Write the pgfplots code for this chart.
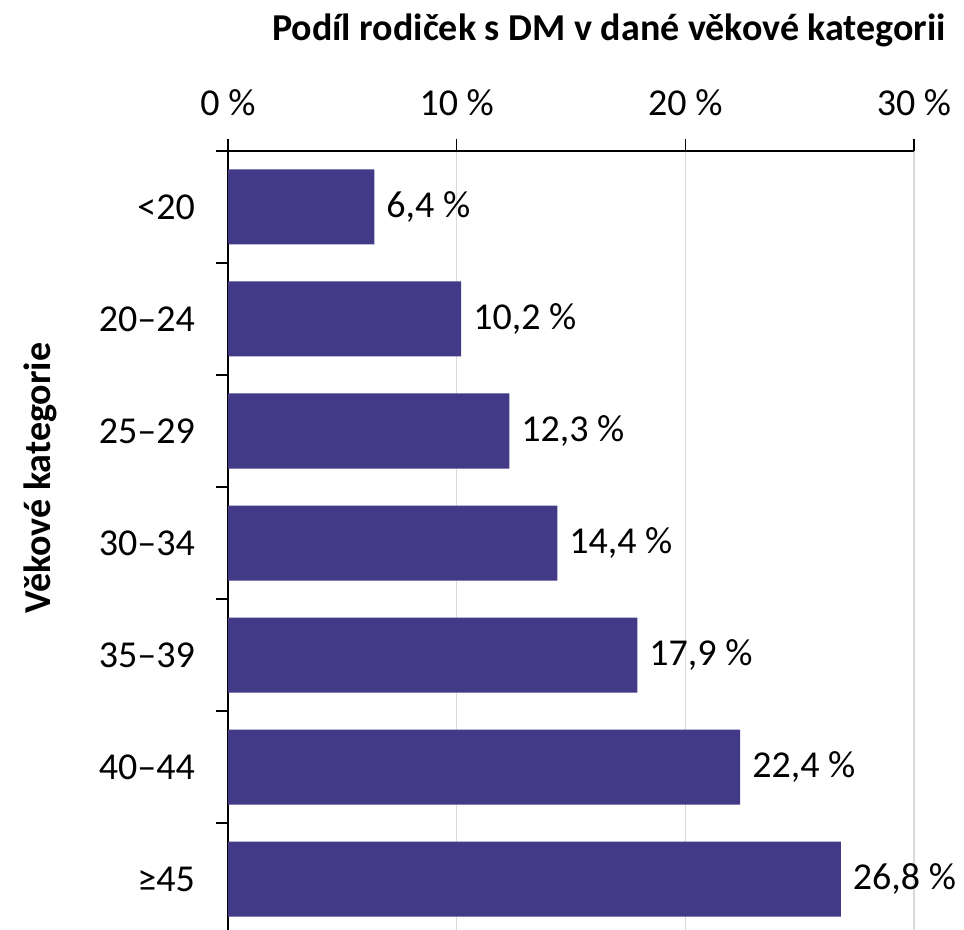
\documentclass[border=0pt]{standalone}
\usepackage{pgfplots}
\pgfplotsset{compat=1.18}
\usepackage{fontspec}
\setmainfont{Carlito}
\definecolor{barpurple}{RGB}{66,57,135}
\definecolor{gridgray}{RGB}{217,217,217}
\pgfkeys{/pgf/number format/assume math mode=true}

\begin{document}
\begin{tikzpicture}[font=\fontsize{19}{23}\selectfont]
\useasboundingbox (0,0) rectangle (482pt,-465pt);
\begin{axis}[
  at={(114pt,-467.5pt)}, anchor=south west,
  width=343pt, height=392pt, scale only axis,
  xbar, bar width=37.5pt,
  xmin=0, xmax=30, ymin=-0.5, ymax=6.5,
  axis x line*=top, axis y line*=left,
  axis line style={black, line width=0.8pt},
  tick align=outside, major tick length=6pt, minor tick length=6pt,
  tick style={black, line width=0.8pt},
  xtick={0,10,20,30},
  xticklabels={0 \%,10 \%,20 \%,30 \%},
  xticklabel style={yshift=8pt},
  xmajorgrids, grid style={gridgray, line width=0.8pt},
  ytick={0,...,6},
  yticklabels={≥45,40–44,35–39,30–34,25–29,20–24,<20},
  minor ytick={-0.5,0.5,...,6.5},
  major y tick style={draw=none},
  yticklabel style={xshift=-7pt},
  nodes near coords={\pgfmathprintnumber[fixed,fixed zerofill,precision=1,use comma]{\pgfplotspointmeta}~\%},
  nodes near coords style={anchor=west, xshift=2.5pt},
  point meta=explicit,
]
\addplot[fill=barpurple, draw=none] coordinates {
  (26.8,0) [26.8] (22.4,1) [22.4] (17.9,2) [17.9] (14.4,3) [14.4]
  (12.3,4) [12.3] (10.2,5) [10.2] (6.4,6) [6.4]};
\end{axis}
\node[font=\fontsize{19}{23}\selectfont\bfseries] at (304.5pt,-15pt) {Podíl rodiček s DM v dané věkové kategorii};
\node[font=\fontsize{19}{23}\selectfont\bfseries, rotate=90] at (20pt,-239pt) {Věkové kategorie};
\end{tikzpicture}
\end{document}
